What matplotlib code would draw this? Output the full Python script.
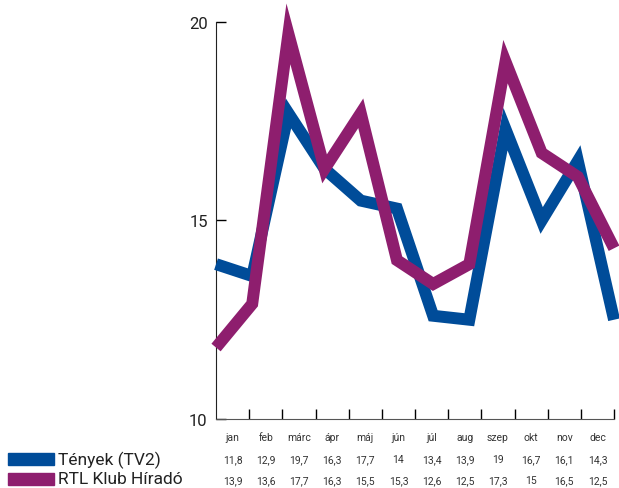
import matplotlib
matplotlib.use('Agg')
from matplotlib import pyplot as plt
from matplotlib.patches import Rectangle

plt.rcParams['font.family'] = ['Roboto', 'DejaVu Sans']

honapok = ['jan', 'feb', 'márc', 'ápr', 'máj', 'jún', 'júl', 'aug', 'szep', 'okt', 'nov', 'dec']
tenyek = [13.9, 13.6, 17.7, 16.3, 15.5, 15.3, 12.6, 12.5, 17.3, 15, 16.5, 12.5]
rtl = [11.8, 12.9, 19.7, 16.3, 17.7, 14, 13.4, 13.9, 19, 16.7, 16.1, 14.3]
# a tablazat sorai (ugy, ahogy a kepen vannak)
sor1 = ['11,8', '12,9', '19,7', '16,3', '17,7', '14', '13,4', '13,9', '19', '16,7', '16,1', '14,3']
sor2 = ['13,9', '13,6', '17,7', '16,3', '15,5', '15,3', '12,6', '12,5', '17,3', '15', '16,5', '12,5']
nevek = ['Tények (TV2)', 'RTL Klub Híradó']

kek = '#004c99'
lila = '#8e1e6e'

fig = plt.figure(figsize=(6.19, 4.89), dpi=100)
ax = fig.add_axes([0.349, 0.1411, 0.643, 0.812])

x = range(len(honapok))
ax.plot(x, tenyek, color=kek, lw=8.6, solid_joinstyle='miter',
        solid_capstyle='butt', clip_on=False, zorder=3)
ax.plot(x, rtl, color=lila, lw=8.6, solid_joinstyle='miter',
        solid_capstyle='butt', clip_on=False, zorder=4)

ax.set_xlim(0, 11)
ax.set_ylim(10, 20)
ax.set_yticks([10, 15, 20])
ax.set_yticklabels(['10', '15', '20'], fontsize=12, color='#222222')
ax.tick_params(axis='y', direction='in', length=7, width=1, pad=6)
n = len(honapok)
ax.set_xticks([11 * k / n for k in range(1, n + 1)])
ax.set_xticklabels([])
ax.tick_params(axis='x', direction='in', length=7, width=1)
ax.spines['top'].set_visible(False)
ax.spines['right'].set_visible(False)
ax.spines['left'].set_color('#222222')
ax.spines['bottom'].set_color('#555555')

# tablazat a tengely alatt
for i in range(n):
    xc = (i + 0.5) / n
    ax.text(xc, -0.053, honapok[i], transform=ax.transAxes, ha='center',
            va='baseline', fontsize=7.5, color='#333333')
    ax.text(xc, -0.109, sor1[i], transform=ax.transAxes, ha='center',
            va='baseline', fontsize=7.5, color='#333333')
    ax.text(xc, -0.161, sor2[i], transform=ax.transAxes, ha='center',
            va='baseline', fontsize=7.5, color='#333333')

# jelmagyarazat
for j, (nev, szin) in enumerate(zip(nevek, [kek, lila])):
    yy = 460 + j * 20
    fig.patches.append(Rectangle((8 / 619, (489 - yy - 6) / 489), 46 / 619, 12 / 489,
                                 transform=fig.transFigure, color=szin))
    fig.text(58 / 619, (489 - yy) / 489, nev, ha='left', va='center',
             fontsize=12.5, color='#222222')

fig.savefig('out.png', dpi=100)
